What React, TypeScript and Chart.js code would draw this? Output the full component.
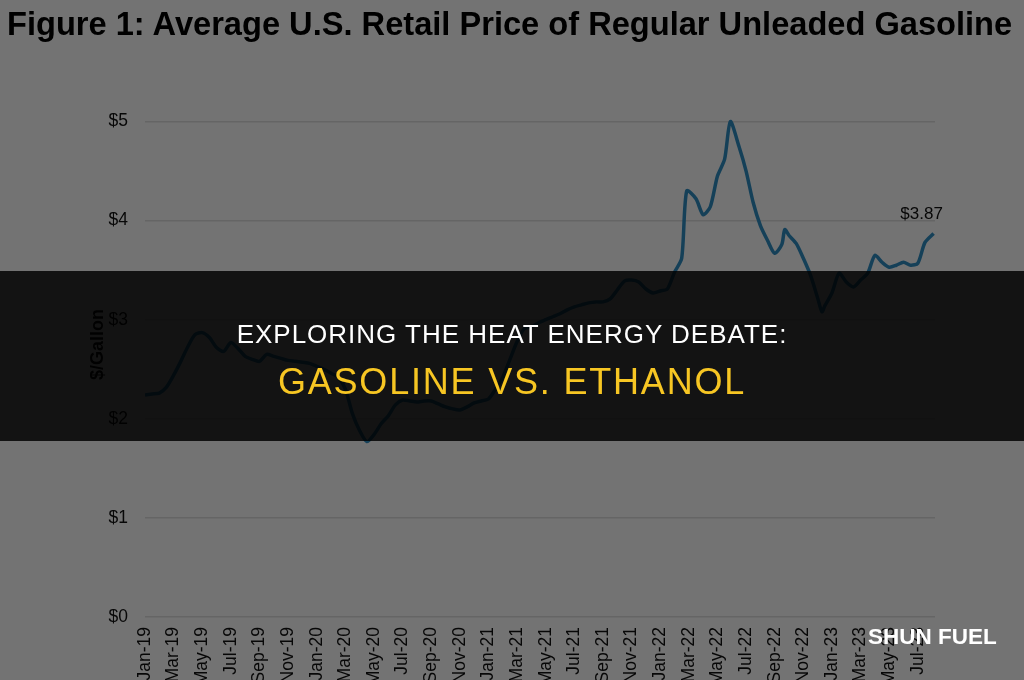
import React, { useEffect, useLayoutEffect, useRef } from "react";
import { Chart, registerables } from "chart.js";

Chart.register(...registerables);

// Months elapsed since the start of Jan 2019 (x position of each reading)
const monthIndex = [
  0, 0.5, 1, 1.5, 2, 2.5, 3, 3.5, 4, 4.5, 5, 5.5, 6, 6.5, 7, 7.5, 8, 8.5, 9, 9.5,
  10, 10.5, 11, 11.5, 12, 12.5, 13, 13.5, 14, 14.5, 15, 15.5, 16, 16.5, 17, 17.5,
  18, 18.5, 19, 19.5, 20, 20.5, 21, 21.5, 22, 22.5, 23, 23.5, 24, 24.5, 25, 25.5,
  26, 26.5, 27, 27.5, 28, 28.5, 29, 29.5, 30, 30.5, 31, 31.5, 32, 32.5, 33, 33.5,
  34, 34.5, 35, 35.5, 36, 36.5, 37, 37.5, 37.85, 38.5, 39, 39.5, 40, 40.5, 40.9,
  41.5, 42, 42.5, 43, 43.5, 44, 44.5, 44.7, 45, 45.5, 46, 46.5, 47, 47.3, 47.5,
  48, 48.5, 49, 49.5, 50, 50.5, 51, 51.5, 52, 52.5, 53, 53.5, 54, 54.5, 55.1,
];

// Average retail price, $/gallon
const prices = [
  2.24, 2.25, 2.26, 2.32, 2.44, 2.58, 2.73, 2.85, 2.87, 2.82, 2.72, 2.68, 2.77, 2.71, 2.63, 2.6, 2.58, 2.65, 2.63, 2.61,
  2.59, 2.58, 2.57, 2.56, 2.53, 2.5, 2.46, 2.42, 2.3, 2.05, 1.88, 1.77, 1.84, 1.95, 2.03, 2.14,
  2.19, 2.18, 2.17, 2.18, 2.18, 2.15, 2.12, 2.1, 2.09, 2.12, 2.16, 2.18, 2.2, 2.3, 2.42, 2.6,
  2.78, 2.91, 2.93, 2.97, 3.0, 3.03, 3.06, 3.1, 3.13, 3.15, 3.17, 3.18, 3.18, 3.21, 3.3, 3.39,
  3.4, 3.38, 3.31, 3.27, 3.29, 3.31, 3.48, 3.62, 4.3, 4.22, 4.06, 4.14, 4.45, 4.62, 5.0,
  4.75, 4.5, 4.18, 3.95, 3.8, 3.67, 3.76, 3.91, 3.85, 3.77, 3.62, 3.45, 3.22, 3.08, 3.14,
  3.27, 3.47, 3.38, 3.33, 3.4, 3.47, 3.65, 3.58, 3.53, 3.55, 3.58, 3.55, 3.57, 3.78, 3.87,
];

const xTickLabels = [
  "Jan-19", "Mar-19", "May-19", "Jul-19", "Sep-19", "Nov-19",
  "Jan-20", "Mar-20", "May-20", "Jul-20", "Sep-20", "Nov-20",
  "Jan-21", "Mar-21", "May-21", "Jul-21", "Sep-21", "Nov-21",
  "Jan-22", "Mar-22", "May-22", "Jul-22", "Sep-22", "Nov-22",
  "Jan-23", "Mar-23", "May-23", "Jul-23",
];
const xTickStep = 2; // months between labelled ticks
const yTickValues = [0, 1, 2, 3, 4, 5];

const titleText = "Figure 1: Average U.S. Retail Price of Regular Unleaded Gasoline";
const yAxisTitle = "$/Gallon";
const bannerLine1 = "EXPLORING THE HEAT ENERGY DEBATE:";
const bannerLine2 = "GASOLINE VS. ETHANOL";
const watermark = "SHUN FUEL";

const FONT = '"Liberation Sans", Arial, Helvetica, sans-serif';
const CANVAS_H = 700;
const PAD_LEFT = 87;

function fitWidth(el: HTMLElement | null, target: number) {
  if (!el) return;
  el.style.transform = "none";
  const w = el.offsetWidth;
  if (w > 0) el.style.transform = `scaleX(${target / w})`;
}

export default function App() {
  const canvasRef = useRef<HTMLCanvasElement | null>(null);
  const titleRef = useRef<HTMLSpanElement | null>(null);

  useLayoutEffect(() => {
    fitWidth(titleRef.current, 1005);
  }, []);

  useEffect(() => {
    if (!canvasRef.current) return;
    const endLabel = "$" + prices[prices.length - 1].toFixed(2);
    const endLabelPlugin = {
      id: "endLabel",
      afterDatasetsDraw(chart: any) {
        const meta = chart.getDatasetMeta(0);
        const last = meta.data[meta.data.length - 1];
        if (!last) return;
        const ctx = chart.ctx;
        ctx.save();
        ctx.font = `17px ${FONT}`;
        ctx.fillStyle = "#111";
        ctx.textAlign = "center";
        ctx.textBaseline = "middle";
        ctx.fillText(endLabel, last.x - 12, last.y - 19);
        ctx.restore();
      },
    };

    const chart = new Chart(canvasRef.current, {
      type: "line",
      data: {
        datasets: [
          {
            data: monthIndex.map((m, i) => ({ x: m, y: prices[i] })),
            borderColor: "rgb(48,142,196)",
            borderWidth: 3.5,
            pointRadius: 0,
            tension: 0.25,
            fill: false,
          },
        ],
      },
      options: {
        responsive: false,
        animation: false,
        devicePixelRatio: 1,
        layout: { padding: { top: 72, right: 89, left: PAD_LEFT, bottom: 0 } },
        plugins: {
          legend: { display: false },
          tooltip: { enabled: false },
          title: { display: false },
        },
        scales: {
          x: {
            type: "linear",
            min: 0,
            max: 55.2,
            grid: { display: false, drawTicks: false },
            border: { display: false },
            afterBuildTicks: (scale: any) => {
              scale.ticks = xTickLabels.map((_, i) => ({ value: i * xTickStep }));
            },
            afterFit: (scale: any) => {
              scale.height = CANVAS_H - 617;
            },
            ticks: {
              autoSkip: false,
              maxRotation: 90,
              minRotation: 90,
              padding: 10,
              color: "#111",
              font: { family: FONT, size: 17.5 },
              callback: (v: any) => xTickLabels[Math.round(Number(v) / xTickStep)],
            },
          },
          y: {
            min: 0,
            max: 5.5,
            grid: { color: "#e0e0e0", lineWidth: 1.5, drawTicks: false },
            border: { display: false },
            afterBuildTicks: (scale: any) => {
              scale.ticks = yTickValues.map((v) => ({ value: v }));
            },
            afterFit: (scale: any) => {
              scale.width = 145 - PAD_LEFT;
            },
            ticks: {
              padding: 17,
              color: "#111",
              font: { family: FONT, size: 17.5 },
              callback: (v: any) => "$" + v,
            },
            title: {
              display: true,
              text: yAxisTitle,
              color: "#111",
              font: { family: FONT, size: 18, weight: "bold" },
              padding: { top: 0, bottom: 0 },
            },
          },
        },
      },
      plugins: [endLabelPlugin],
    });
    return () => chart.destroy();
  }, []);

  return (
    <div
      style={{
        position: "fixed",
        left: 0,
        top: 0,
        width: 1024,
        height: 680,
        overflow: "hidden",
        background: "#ffffff",
        fontFamily: FONT,
      }}
    >
      <canvas
        ref={canvasRef}
        width={1024}
        height={CANVAS_H}
        style={{ position: "absolute", left: 0, top: 0, width: 1024, height: CANVAS_H }}
      />
      <div style={{ position: "absolute", left: 7, top: 5, whiteSpace: "nowrap" }}>
        <span
          ref={titleRef}
          style={{
            display: "inline-block",
            fontSize: 33,
            fontWeight: "bold",
            color: "#000",
            transformOrigin: "left top",
            lineHeight: "normal",
          }}
        >
          {titleText}
        </span>
      </div>
      {/* grey veil over the whole figure */}
      <div style={{ position: "absolute", inset: 0, background: "rgba(0,0,0,0.55)" }} />
      {/* dark banner */}
      <div
        style={{
          position: "absolute",
          left: 0,
          top: 271,
          width: 1024,
          height: 170,
          background: "rgba(0,0,0,0.83)",
        }}
      />
      <div
        style={{
          position: "absolute",
          left: 0,
          width: 1024,
          top: 319,
          height: 30,
          lineHeight: "30px",
          textAlign: "center",
          color: "#ffffff",
          fontSize: 26,
          letterSpacing: 1,
          whiteSpace: "nowrap",
        }}
      >
        {bannerLine1}
      </div>
      <div
        style={{
          position: "absolute",
          left: 0,
          width: 1024,
          top: 362,
          height: 40,
          lineHeight: "40px",
          textAlign: "center",
          color: "#f7c623",
          fontSize: 36,
          letterSpacing: 1.8,
          whiteSpace: "nowrap",
        }}
      >
        {bannerLine2}
      </div>
      <div
        style={{
          position: "absolute",
          left: 868,
          top: 624,
          height: 26,
          lineHeight: "26px",
          color: "#ffffff",
          fontSize: 22.5,
          fontWeight: "bold",
          whiteSpace: "nowrap",
        }}
      >
        {watermark}
      </div>
    </div>
  );
}
